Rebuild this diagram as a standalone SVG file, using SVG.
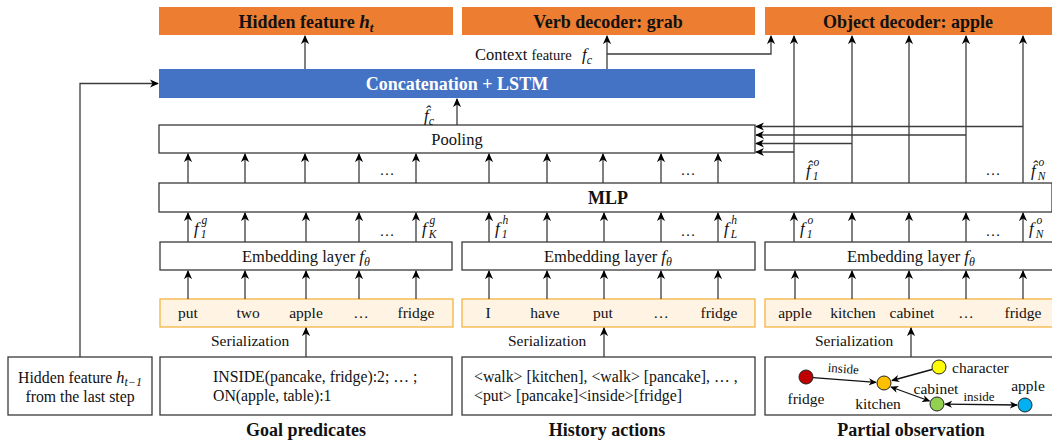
<svg xmlns="http://www.w3.org/2000/svg" width="1052" height="442" viewBox="0 0 1052 442">
  <style>
    text { font-family: "Liberation Serif", "Times New Roman", serif; fill: #111; }
    .title { font-size: 18px; font-weight: bold; text-anchor: middle; }
    .lbl { font-size: 16.5px; text-anchor: middle; }
    .tok { font-size: 15.5px; text-anchor: middle; }
    .small { font-size: 15.8px; }
    .dots { font-size: 15px; text-anchor: middle; }
    .math { font-style: italic; }
    .fe { font-size: 17px; font-style: italic; }
    .sb { font-size: 11.5px; }
    .box { fill: #fff; stroke: #3a3a3a; stroke-width: 1.3; }
    .dec { fill: #ED7D31; }
    .lstm { fill: #4472C4; }
    .tokbox { fill: #FFF3E3; stroke: #F5B94F; stroke-width: 1.4; }
    .arrow { fill: none; stroke: #3c3c3c; stroke-width: 1.3; marker-end: url(#ah); }
    .dbl { fill: none; stroke: #111; stroke-width: 1.3; marker-end: url(#ah2); marker-start: url(#ah2); }
    .one { fill: none; stroke: #111; stroke-width: 1.3; marker-end: url(#ah2); }
    .node { stroke: #222; stroke-width: 1; }
  </style>
  <defs>
    <marker id="ah" viewBox="0 0 10 10" refX="9" refY="5" markerWidth="9" markerHeight="9" markerUnits="userSpaceOnUse" orient="auto-start-reverse">
      <path d="M0,0.5 L10,5 L0,9.5 L3,5 z" fill="#000"/>
    </marker>
    <marker id="ah2" viewBox="0 0 10 10" refX="9" refY="5" markerWidth="8" markerHeight="8" markerUnits="userSpaceOnUse" orient="auto-start-reverse">
      <path d="M0,0.5 L10,5 L0,9.5 L3,5 z" fill="#000"/>
    </marker>
  </defs>

  <!-- decoders -->
  <g id="hidden-feature">
    <rect class="dec" x="159" y="7" width="294" height="28"/>
    <text class="title" x="306" y="27.5">Hidden feature <tspan class="math" font-size="19">h</tspan><tspan class="math" font-size="13" dy="4">t</tspan></text>
  </g>
  <g id="verb-decoder">
    <rect class="dec" x="462" y="7" width="293" height="28"/>
    <text class="title" x="608" y="27.5">Verb decoder: grab</text>
  </g>
  <g id="object-decoder">
    <rect class="dec" x="765" y="7" width="287" height="28"/>
    <text class="title" x="908" y="27.5">Object decoder: apple</text>
  </g>

  <!-- LSTM -->
  <g id="concat-lstm">
    <rect class="lstm" x="159" y="69" width="596" height="29"/>
    <text class="title" x="457" y="90" style="fill:#fff">Concatenation + LSTM</text>
  </g>

  <g id="context-label">
    <text x="475" y="60" font-size="16.5">Context <tspan font-size="14.5">feature</tspan></text>
    <text x="582" y="60" class="fe">f<tspan font-size="12" dy="3.5">c</tspan></text>
  </g>

  <!-- pooling -->
  <g id="pooling">
    <rect class="box" x="159" y="125" width="596" height="28"/>
    <text class="lbl" x="457" y="145" font-size="17.5">Pooling</text>
  </g>

  <!-- MLP -->
  <g id="mlp">
    <rect class="box" x="159" y="183" width="893" height="29"/>
    <text class="title" x="608" y="204">MLP</text>
  </g>

  <!-- embedding layers -->
  <g id="embed-goal">
    <rect class="box" x="160" y="242" width="292" height="28"/>
    <text class="lbl" x="306" y="262">Embedding layer <tspan class="math" font-size="17">f</tspan><tspan class="math" font-size="12" dy="3.5">θ</tspan></text>
  </g>
  <g id="embed-history">
    <rect class="box" x="462" y="242" width="293" height="28"/>
    <text class="lbl" x="608" y="262">Embedding layer <tspan class="math" font-size="17">f</tspan><tspan class="math" font-size="12" dy="3.5">θ</tspan></text>
  </g>
  <g id="embed-obs">
    <rect class="box" x="765" y="242" width="290" height="28"/>
    <text class="lbl" x="911" y="262">Embedding layer <tspan class="math" font-size="17">f</tspan><tspan class="math" font-size="12" dy="3.5">θ</tspan></text>
  </g>

  <!-- token rows -->
  <g id="tokens-goal">
    <rect class="tokbox" x="160" y="299" width="293" height="28"/>
    <text class="tok" x="188" y="318">put</text>
    <text class="tok" x="248" y="318">two</text>
    <text class="tok" x="306" y="318">apple</text>
    <text class="tok" x="361" y="318">…</text>
    <text class="tok" x="416" y="318">fridge</text>
  </g>
  <g id="tokens-history">
    <rect class="tokbox" x="462" y="299" width="293" height="28"/>
    <text class="tok" x="488" y="318">I</text>
    <text class="tok" x="545" y="318">have</text>
    <text class="tok" x="603" y="318">put</text>
    <text class="tok" x="661" y="318">…</text>
    <text class="tok" x="719" y="318">fridge</text>
  </g>
  <g id="tokens-obs">
    <rect class="tokbox" x="765" y="299" width="290" height="28"/>
    <text class="tok" x="795" y="318">apple</text>
    <text class="tok" x="853" y="318">kitchen</text>
    <text class="tok" x="912" y="318">cabinet</text>
    <text class="tok" x="966" y="318">…</text>
    <text class="tok" x="1023" y="318">fridge</text>
  </g>

  <!-- inputs -->
  <g id="prev-hidden">
    <rect class="box" x="8" y="357" width="144" height="58"/>
    <text x="80" y="383" font-size="15.8" text-anchor="middle">Hidden feature <tspan class="math" font-size="16.5">h</tspan><tspan class="math" font-size="12" dy="3">t−1</tspan></text>
    <text x="80" y="402" font-size="15.8" text-anchor="middle">from the last step</text>
  </g>
  <g id="goal-predicates">
    <rect class="box" x="160" y="357" width="292" height="58"/>
    <text class="small" x="213" y="382">INSIDE(pancake, fridge):2; … ;</text>
    <text class="small" x="213" y="401">ON(apple, table):1</text>
    <text class="title" x="306" y="436">Goal predicates</text>
  </g>
  <g id="history-actions">
    <rect class="box" x="462" y="357" width="293" height="58"/>
    <text class="small" x="474" y="382">&lt;walk&gt; [kitchen], &lt;walk&gt; [pancake], … ,</text>
    <text class="small" x="474" y="401">&lt;put&gt; [pancake]&lt;inside&gt;[fridge]</text>
    <text class="title" x="607" y="436">History actions</text>
  </g>
  <g id="partial-observation">
    <rect class="box" x="765" y="357" width="292" height="58"/>
    <line class="one" x1="813" y1="377.6" x2="876" y2="382.4"/>
    <line class="one" x1="932" y1="369.5" x2="892" y2="380.5"/>
    <line class="dbl" x1="891" y1="387" x2="929.5" y2="401"/>
    <line class="dbl" x1="945" y1="404.2" x2="1017" y2="405"/>
    <circle class="node" cx="806" cy="377" r="7" fill="#C00000"/>
    <circle class="node" cx="884" cy="383" r="7" fill="#FFC000"/>
    <circle class="node" cx="939" cy="367" r="7" fill="#FFFF00"/>
    <circle class="node" cx="937" cy="404" r="7" fill="#92D050"/>
    <circle class="node" cx="1025" cy="405" r="7" fill="#00B0F0"/>
    <text font-size="13" text-anchor="middle" transform="translate(843 373) rotate(4.4)">inside</text>
    <text font-size="13" x="979" y="401" text-anchor="middle">inside</text>
    <text font-size="15.5" x="806" y="404" text-anchor="middle">fridge</text>
    <text font-size="15.5" x="878" y="409" text-anchor="middle">kitchen</text>
    <text font-size="15.5" x="952" y="373">character</text>
    <text font-size="15.5" x="936" y="394" text-anchor="middle">cabinet</text>
    <text font-size="15.5" x="1028" y="391" text-anchor="middle">apple</text>
    <text class="title" x="911" y="436">Partial observation</text>
  </g>

  <!-- connectors -->
  <g id="connectors">
    <!-- previous hidden state into LSTM -->
    <path class="arrow" d="M80,357 V83.5 H158"/>
    <!-- LSTM outputs -->
    <line class="arrow" x1="305" y1="69" x2="305" y2="36"/>
    <line class="arrow" x1="607" y1="69" x2="607" y2="36"/>
    <path class="arrow" d="M607,54 H771 V36"/>
    <!-- pooled context into LSTM -->
    <line class="arrow" x1="457" y1="125" x2="457" y2="99"/>
    <!-- MLP to pooling -->
    <line class="arrow" x1="188" y1="183" x2="188" y2="154"/>
    <line class="arrow" x1="245" y1="183" x2="245" y2="154"/>
    <line class="arrow" x1="305" y1="183" x2="305" y2="154"/>
    <line class="arrow" x1="359" y1="183" x2="359" y2="154"/>
    <line class="arrow" x1="416" y1="183" x2="416" y2="154"/>
    <line class="arrow" x1="489" y1="183" x2="489" y2="154"/>
    <line class="arrow" x1="547" y1="183" x2="547" y2="154"/>
    <line class="arrow" x1="603" y1="183" x2="603" y2="154"/>
    <line class="arrow" x1="661" y1="183" x2="661" y2="154"/>
    <line class="arrow" x1="718" y1="183" x2="718" y2="154"/>
    <!-- object features to object decoder -->
    <line class="arrow" x1="794" y1="183" x2="794" y2="36"/>
    <line class="arrow" x1="852" y1="183" x2="852" y2="36"/>
    <line class="arrow" x1="909" y1="183" x2="909" y2="36"/>
    <line class="arrow" x1="966" y1="183" x2="966" y2="36"/>
    <line class="arrow" x1="1023" y1="183" x2="1023" y2="36"/>
    <!-- object features back into pooling -->
    <line class="arrow" x1="1023" y1="126.5" x2="756" y2="126.5"/>
    <line class="arrow" x1="966" y1="135" x2="756" y2="135"/>
    <line class="arrow" x1="852" y1="143.5" x2="756" y2="143.5"/>
    <line class="arrow" x1="794" y1="152" x2="756" y2="152"/>
    <!-- embeddings to MLP -->
    <line class="arrow" x1="188" y1="242" x2="188" y2="213"/>
    <line class="arrow" x1="245" y1="242" x2="245" y2="213"/>
    <line class="arrow" x1="306" y1="242" x2="306" y2="213"/>
    <line class="arrow" x1="359" y1="242" x2="359" y2="213"/>
    <line class="arrow" x1="416" y1="242" x2="416" y2="213"/>
    <line class="arrow" x1="489" y1="242" x2="489" y2="213"/>
    <line class="arrow" x1="547" y1="242" x2="547" y2="213"/>
    <line class="arrow" x1="604" y1="242" x2="604" y2="213"/>
    <line class="arrow" x1="661" y1="242" x2="661" y2="213"/>
    <line class="arrow" x1="718" y1="242" x2="718" y2="213"/>
    <line class="arrow" x1="794" y1="242" x2="794" y2="213"/>
    <line class="arrow" x1="852" y1="242" x2="852" y2="213"/>
    <line class="arrow" x1="909" y1="242" x2="909" y2="213"/>
    <line class="arrow" x1="966" y1="242" x2="966" y2="213"/>
    <line class="arrow" x1="1023" y1="242" x2="1023" y2="213"/>
    <!-- tokens to embeddings -->
    <line class="arrow" x1="188" y1="299" x2="188" y2="271"/>
    <line class="arrow" x1="245" y1="299" x2="245" y2="271"/>
    <line class="arrow" x1="306" y1="299" x2="306" y2="271"/>
    <line class="arrow" x1="359" y1="299" x2="359" y2="271"/>
    <line class="arrow" x1="416" y1="299" x2="416" y2="271"/>
    <line class="arrow" x1="489" y1="299" x2="489" y2="271"/>
    <line class="arrow" x1="547" y1="299" x2="547" y2="271"/>
    <line class="arrow" x1="604" y1="299" x2="604" y2="271"/>
    <line class="arrow" x1="661" y1="299" x2="661" y2="271"/>
    <line class="arrow" x1="718" y1="299" x2="718" y2="271"/>
    <line class="arrow" x1="795" y1="299" x2="795" y2="271"/>
    <line class="arrow" x1="852" y1="299" x2="852" y2="271"/>
    <line class="arrow" x1="909" y1="299" x2="909" y2="271"/>
    <line class="arrow" x1="966" y1="299" x2="966" y2="271"/>
    <line class="arrow" x1="1023" y1="299" x2="1023" y2="271"/>
    <!-- serialization -->
    <line class="arrow" x1="306" y1="357" x2="306" y2="328"/>
    <line class="arrow" x1="604" y1="357" x2="604" y2="328"/>
    <line class="arrow" x1="911" y1="357" x2="911" y2="328"/>
  </g>

  <!-- feature labels: sub/superscripts stacked to the right of f -->
  <g id="feature-labels">
    <text x="424" y="121" class="fe">f̂<tspan font-size="12" dy="3.5">c</tspan></text>
    <text class="dots" x="387" y="175">…</text>
    <text class="dots" x="688" y="175">…</text>
    <text class="dots" x="993" y="175">…</text>
    <text x="806" y="176" class="fe">f̂<tspan class="sb" dx="2" dy="4">1</tspan><tspan class="sb" dx="-5" dy="-14">o</tspan></text>
    <text x="1031" y="176" class="fe">f̂<tspan class="sb" dx="2" dy="4">N</tspan><tspan class="sb" dx="-7" dy="-14">o</tspan></text>
    <text class="dots" x="387" y="236">…</text>
    <text class="dots" x="688" y="236">…</text>
    <text class="dots" x="993" y="236">…</text>
    <text x="194" y="234" class="fe">f<tspan class="sb" dx="2" dy="4">1</tspan><tspan class="sb" dx="-5" dy="-14">g</tspan></text>
    <text x="422" y="234" class="fe">f<tspan class="sb" dx="2" dy="4">K</tspan><tspan class="sb" dx="-7" dy="-14">g</tspan></text>
    <text x="495" y="234" class="fe">f<tspan class="sb" dx="2" dy="4">1</tspan><tspan class="sb" dx="-5" dy="-14">h</tspan></text>
    <text x="724" y="234" class="fe">f<tspan class="sb" dx="2" dy="4">L</tspan><tspan class="sb" dx="-6" dy="-14">h</tspan></text>
    <text x="800" y="234" class="fe">f<tspan class="sb" dx="2" dy="4">1</tspan><tspan class="sb" dx="-5" dy="-14">o</tspan></text>
    <text x="1029" y="234" class="fe">f<tspan class="sb" dx="2" dy="4">N</tspan><tspan class="sb" dx="-7" dy="-14">o</tspan></text>
  </g>

  <g id="serialization-labels" font-size="15.5">
    <text x="211" y="346">Serialization</text>
    <text x="508" y="346">Serialization</text>
    <text x="815" y="346">Serialization</text>
  </g>
</svg>
